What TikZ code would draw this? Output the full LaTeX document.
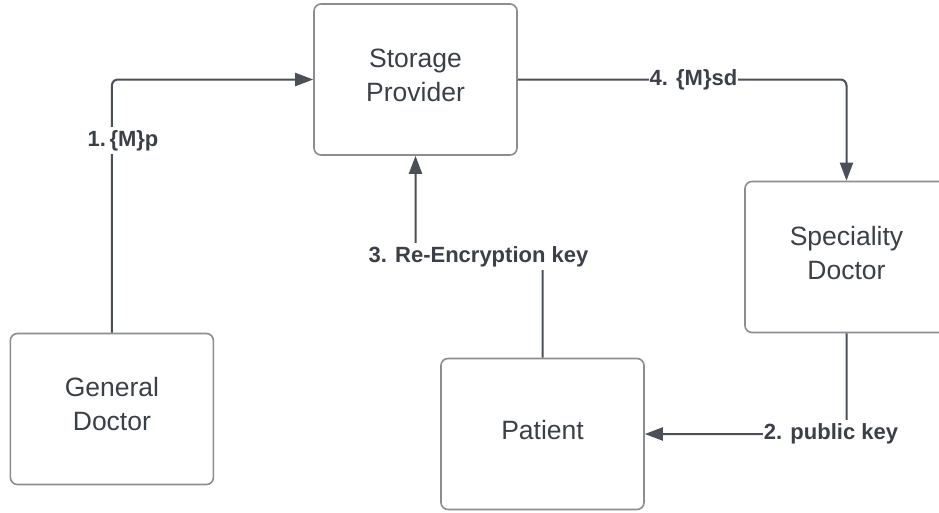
\documentclass[tikz,border=0pt]{standalone}
\usepackage{fontspec}
\setmainfont{Liberation Sans}
\usetikzlibrary{arrows.meta}

\definecolor{boxline}{HTML}{8A8D92}
\definecolor{ink}{HTML}{3B4048}
\definecolor{wire}{HTML}{4A4F58}

\tikzset{
  party/.style={draw=boxline, line width=1.6pt, rounded corners=7pt,
    minimum width=203pt, minimum height=151pt, inner sep=0pt},
  partytext/.style={align=center, text=ink, inner sep=0pt,
    font=\fontsize{26.5pt}{34pt}\selectfont},
  wireline/.style={draw=wire, line width=2pt, rounded corners=6pt},
  wirearrow/.style={wireline, -{Triangle[length=18pt,width=13pt]}},
  msg/.style={fill=white, text=ink, inner xsep=1pt, inner ysep=3pt,
    text height=16pt, text depth=4.5pt,
    font=\fontsize{22pt}{26pt}\selectfont\bfseries}
}

\begin{document}
\begin{tikzpicture}[x=1pt, y=-1pt]
  \useasboundingbox (0,0) rectangle (939,512);
  \clip (0,0) rectangle (939,512);
  \fill[white] (0,0) rectangle (939,512);

  % parties
  \node[party] (sto) at (415.5,79.5) {};
  \node[party] (gen) at (111.9,409) {};
  \node[party] (pat) at (542.5,434) {};
  \node[party] (spe) at (846.5,257) {};

  \node[partytext] (stoT) at ([yshift=4.5pt]sto.center) {Storage\\Provider};
  \node[partytext] (genT) at ([yshift=4.5pt]gen.center) {General\\Doctor};
  \node[partytext] (patT) at ([yshift=3.5pt]pat.center) {Patient};
  \node[partytext] (speT) at ([yshift=4pt]spe.center) {Speciality\\Doctor};

  % label anchors
  \coordinate (k3) at (478.5,256.5);

  % message flow
  \draw[wirearrow] (gen.north) |- (sto.west);
  \draw[wirearrow] (sto.east) -| (spe.north);
  \draw[wirearrow] (spe.south) |- (pat.east);
  \draw[wirearrow] (pat.north) |- (k3) -| (sto.south);

  % step labels
  \node[msg] (m1) at (123,140.5) {1.\,\{M\}p};
  \node[msg] (m4) at (693.5,79.5) {4. \{M\}sd};
  \node[msg] (m2) at (831,433.5) {2. public key};
  \node[msg] (m3) at (k3) {3. Re-Encryption key};
\end{tikzpicture}
\end{document}
